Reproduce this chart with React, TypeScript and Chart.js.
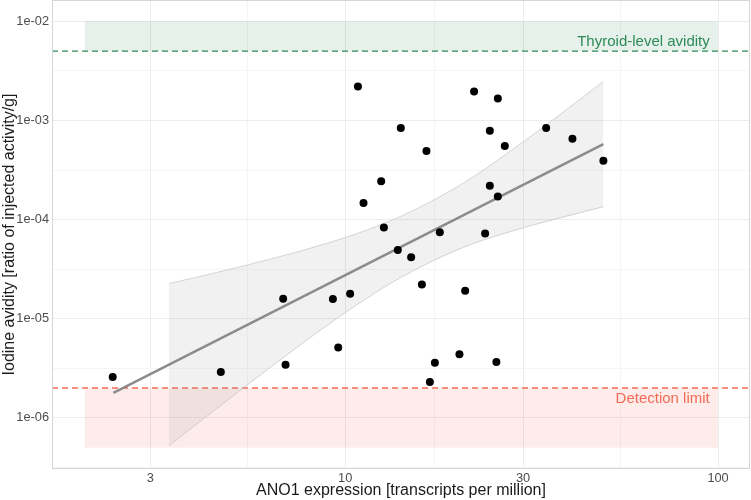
import { useEffect, useRef } from 'react';
import { Chart, registerables } from 'chart.js';

Chart.register(...registerables);

// ANO1 expression (TPM) and iodine avidity for each sample
const expression = [
  2.38, 4.64, 6.82, 6.92, 9.27, 9.58, 10.31, 10.82, 11.2, 12.49, 12.7, 13.84, 14.1, 15.03, 16.06, 16.52,
  16.87, 17.4, 17.94, 20.25, 20.98, 22.17, 23.73, 24.43, 24.43, 25.44, 25.67, 25.67, 26.8, 34.59, 40.69, 49.26
];
const avidity = [
  2.59e-6, 2.9e-6, 1.59e-5, 3.43e-6, 1.58e-5, 5.14e-6, 1.79e-5, 2.2e-3, 1.47e-4, 2.43e-4, 8.3e-5, 4.94e-5,
  8.38e-4, 4.17e-5, 2.22e-5, 4.91e-4, 2.3e-6, 3.6e-6, 7.46e-5, 4.37e-6, 1.92e-5, 1.96e-3, 7.22e-5, 7.87e-4,
  2.2e-4, 3.65e-6, 1.66e-3, 1.71e-4, 5.51e-4, 8.38e-4, 6.53e-4, 3.92e-4
];

// fitted line (log-log) and its confidence band
const fitX = [2.39, 49.26];
const fitY = [1.79e-6, 5.78e-4];
const bandX = [3.37, 4.27, 5.45, 7.39, 10, 13.2, 17.25, 22.1, 30.1, 38.4, 49.26];
const bandUpper = [2.27e-5, 2.78e-5, 3.48e-5, 4.69e-5, 6.58e-5, 9.68e-5, 1.57e-4, 2.71e-4, 6.12e-4, 1.21e-3, 2.47e-3];
const bandLower = [5.24e-7, 1.05e-6, 2.13e-6, 5.07e-6, 1.15e-5, 2.26e-5, 3.86e-5, 5.75e-5, 8.28e-5, 1.06e-4, 1.35e-4];

// reference zones
const zoneX = [2, 100];
const thyroidZone = [5e-3, 1e-2];
const detectionZone = [5e-7, 2e-6];
const thyroidLevel = 5e-3;
const detectionLevel = 2e-6;

// axes
const xLimits = [1.636, 121.8];
const yLimits = [3.05e-7, 1.64e-2];
const xTickValues = [3, 5.477, 10, 17.32, 30, 54.77, 100];
const xTickLabels = ['3', '', '10', '', '30', '', '100'];
const yTickValues = [3.162e-7, 1e-6, 3.162e-6, 1e-5, 3.162e-5, 1e-4, 3.162e-4, 1e-3, 3.162e-3, 1e-2];
const yTickLabels = ['', '1e-06', '', '1e-05', '', '1e-04', '', '1e-03', '', '1e-02'];

const labelX = 95;
const thyroidLabelY = 5.6e-3;
const detectionLabelY = 1.4e-6;

const FONT = '"Liberation Sans", Arial, sans-serif';
const GREEN = '#2e8b57';
const SALMON = '#f26b55';

const annotations = {
  id: 'annotations',
  afterDatasetsDraw(chart: Chart) {
    const { ctx, chartArea, scales } = chart;
    const x = scales.x;
    const y = scales.y;
    ctx.save();
    ctx.font = `15px ${FONT}`;
    ctx.textAlign = 'right';
    ctx.textBaseline = 'alphabetic';
    ctx.fillStyle = GREEN;
    ctx.fillText('Thyroid-level avidity', x.getPixelForValue(labelX), y.getPixelForValue(thyroidLabelY));
    ctx.fillStyle = SALMON;
    ctx.fillText('Detection limit', x.getPixelForValue(labelX), y.getPixelForValue(detectionLabelY));
    // panel border
    ctx.strokeStyle = '#d6d6d6';
    ctx.lineWidth = 1;
    ctx.strokeRect(chartArea.left + 0.5, chartArea.top + 0.5, chartArea.width - 1, chartArea.height - 1);
    ctx.restore();
  }
};

const pts = (xs: number[], ys: number[]) => xs.map((v, i) => ({ x: v, y: ys[i] }));

export default function App() {
  const chartRef = useRef<HTMLCanvasElement>(null);
  const chartInstance = useRef<Chart | null>(null);

  useEffect(() => {
    document.body.style.margin = '0';
    if (!chartRef.current) return;
    if (chartInstance.current) chartInstance.current.destroy();
    const ctx = chartRef.current.getContext('2d');
    if (!ctx) return;

    chartInstance.current = new Chart(ctx, {
      type: 'scatter',
      data: {
        datasets: [
          {
            label: 'Samples',
            data: pts(expression, avidity),
            backgroundColor: '#000',
            borderColor: '#000',
            pointRadius: 4,
            pointBorderWidth: 0,
            showLine: false
          },
          {
            label: 'Fit',
            data: pts(fitX, fitY),
            showLine: true,
            borderColor: '#8c8c8c',
            borderWidth: 2.5,
            pointRadius: 0
          },
          {
            label: 'CI upper',
            data: pts(bandX, bandUpper),
            showLine: true,
            borderColor: '#c4c4c4',
            borderWidth: 0.7,
            pointRadius: 0,
            tension: 0.3,
            fill: '+1',
            backgroundColor: 'rgba(153,153,153,0.14)'
          },
          {
            label: 'CI lower',
            data: pts(bandX, bandLower),
            showLine: true,
            borderColor: '#c4c4c4',
            borderWidth: 0.7,
            pointRadius: 0,
            tension: 0.3,
            fill: false
          },
          {
            label: 'Thyroid level',
            data: pts(xLimits, [thyroidLevel, thyroidLevel]),
            showLine: true,
            borderColor: GREEN,
            borderWidth: 1.2,
            borderDash: [6, 4],
            pointRadius: 0
          },
          {
            label: 'Detection level',
            data: pts(xLimits, [detectionLevel, detectionLevel]),
            showLine: true,
            borderColor: SALMON,
            borderWidth: 1.6,
            borderDash: [6, 4],
            pointRadius: 0
          },
          {
            label: 'Thyroid zone',
            data: pts(zoneX, [thyroidZone[1], thyroidZone[1]]),
            showLine: true,
            borderWidth: 0,
            pointRadius: 0,
            fill: { value: thyroidZone[0] },
            backgroundColor: 'rgba(46,139,87,0.12)'
          },
          {
            label: 'Detection zone',
            data: pts(zoneX, [detectionZone[1], detectionZone[1]]),
            showLine: true,
            borderWidth: 0,
            pointRadius: 0,
            fill: { value: detectionZone[0] },
            backgroundColor: 'rgba(250,128,114,0.15)'
          }
        ]
      },
      options: {
        animation: false,
        responsive: true,
        maintainAspectRatio: false,
        layout: { autoPadding: false, padding: { top: 0, right: 1, bottom: 0, left: 0 } },
        plugins: {
          legend: { display: false },
          tooltip: { enabled: false }
        },
        scales: {
          x: {
            type: 'logarithmic',
            min: xLimits[0],
            max: xLimits[1],
            afterBuildTicks: (scale: any) => {
              scale.ticks = xTickValues.map(v => ({ value: v }));
            },
            afterFit: (scale: any) => {
              scale.height = 31;
              scale.paddingLeft = 0;
              scale.paddingRight = 0;
            },
            ticks: {
              autoSkip: false,
              maxRotation: 0,
              padding: 2,
              color: '#4d4d4d',
              font: { family: FONT, size: 12.8 },
              callback: (_v: any, i: number) => xTickLabels[i]
            },
            grid: {
              drawTicks: false,
              color: (c: any) => (xTickLabels[c.index] ? '#ececec' : '#f5f5f5'),
              lineWidth: 1
            },
            border: { display: false },
            title: {
              display: true,
              text: 'ANO1 expression [transcripts per million]',
              color: '#1a1a1a',
              font: { family: FONT, size: 16 },
              padding: 0
            }
          },
          y: {
            type: 'logarithmic',
            min: yLimits[0],
            max: yLimits[1],
            afterBuildTicks: (scale: any) => {
              scale.ticks = yTickValues.map(v => ({ value: v }));
            },
            afterFit: (scale: any) => {
              scale.width = 52;
              scale.paddingTop = 0;
              scale.paddingBottom = 0;
            },
            ticks: {
              autoSkip: false,
              padding: 3,
              color: '#4d4d4d',
              font: { family: FONT, size: 12.8 },
              callback: (_v: any, i: number) => yTickLabels[i]
            },
            grid: {
              drawTicks: false,
              color: (c: any) => (yTickLabels[c.index] ? '#ececec' : '#f5f5f5'),
              lineWidth: 1
            },
            border: { display: false },
            title: {
              display: true,
              text: 'Iodine avidity [ratio of injected activity/g]',
              color: '#1a1a1a',
              font: { family: FONT, size: 16 },
              padding: 0
            }
          }
        }
      },
      plugins: [annotations]
    });

    return () => {
      if (chartInstance.current) {
        chartInstance.current.destroy();
        chartInstance.current = null;
      }
    };
  }, []);

  return (
    <div style={{ width: 751, height: 500, position: 'relative' }}>
      <canvas ref={chartRef}></canvas>
    </div>
  );
}
